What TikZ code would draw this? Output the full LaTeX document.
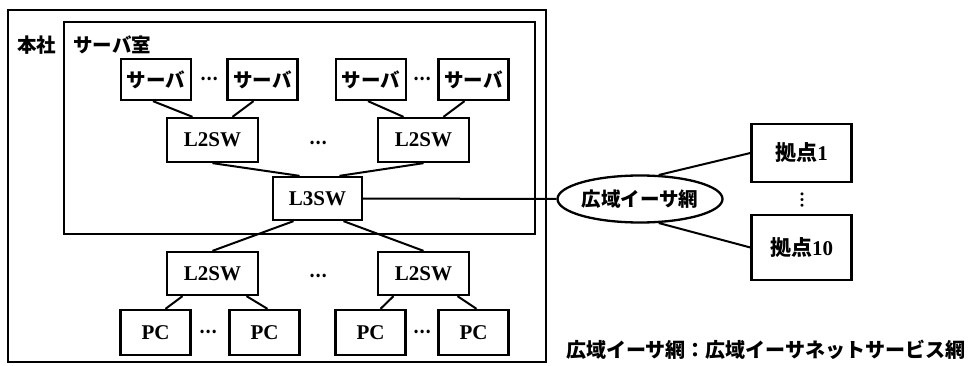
\documentclass[tikz,border=0pt]{standalone}
\usepackage{fontspec}
\setmainfont{Liberation Serif}
\newfontfamily\cjk{Noto Sans CJK JP}
\usetikzlibrary{shapes.geometric}
\tikzset{
  every node/.style={font=\fontsize{21}{24}\selectfont\bfseries},
  bx/.style={draw, line width=2.3pt, inner sep=0pt},
  srv/.style={bx, minimum width=70pt, minimum height=41pt, font=\fontsize{19.5}{22}\selectfont\cjk\bfseries},
  sw/.style={bx, minimum width=91pt, minimum height=44pt},
  pcb/.style={bx, minimum width=70pt, minimum height=45pt},
  site/.style={bx, minimum width=100pt},
  ln/.style={line width=2pt},
  frame/.style={line width=2pt},
  jp/.style={font=\fontsize{19.5}{22}\selectfont\cjk\bfseries, inner sep=0pt},
  dts/.style={inner sep=0pt, font=\fontsize{16}{16}\selectfont\cjk\bfseries}
}
\begin{document}
\begin{tikzpicture}[x=1pt,y=-1pt]
\useasboundingbox (0,0) rectangle (974,366);
% frames
\draw[frame] (8,10) rectangle (546,362);
\draw[frame] (64,22) rectangle (535,234);
\node[jp, anchor=west] (honsha) at (17,45) {本社};
\node[jp, anchor=west] (room) at (73,45) {サーバ室};
% servers
\node[srv] (s1) at (156,79.5) {サーバ};
\node[srv] (s2) at (262.5,79.5) {サーバ};
\node[srv] (s3) at (371,79.5) {サーバ};
\node[srv] (s4) at (473.5,79.5) {サーバ};
\node[dts] (d1) at (209,79) {…};
\node[dts] (d2) at (422,79) {…};
% upper L2SW
\node[sw] (ua) at (212.5,140) {L2SW};
\node[sw] (ub) at (423.5,140) {L2SW};
\node[dts] (d3) at (318,143) {…};
% L3SW
\node[sw, minimum width=89pt, minimum height=43pt] (l3) at (317.5,198.5) {L3SW};
% lower L2SW
\node[sw, minimum height=43pt] (la) at (212.5,273.5) {L2SW};
\node[sw, minimum height=43pt] (lb) at (423.5,273.5) {L2SW};
\node[dts] (d4) at (318,276) {…};
% PCs
\node[pcb] (p1) at (155.5,332.5) {PC};
\node[pcb] (p2) at (264.5,332.5) {PC};
\node[pcb] (p3) at (370.5,332.5) {PC};
\node[pcb] (p4) at (473.5,332.5) {PC};
\node[dts] (d5) at (208,332) {…};
\node[dts] (d6) at (422,332) {…};
% WAN
\node[draw, ellipse, line width=2.3pt, minimum width=165pt, minimum height=47pt, inner sep=0pt, font=\fontsize{19.5}{22}\selectfont\cjk\bfseries] (net) at (640,199) {広域イーサ網};
\node[site, minimum height=58pt] (k1) at (801.5,153) {{\cjk 拠点}1};
\node[site, minimum height=65pt] (k10) at (801.5,247.5) {{\cjk 拠点}10};
\node[dts, font=\fontsize{17}{17}\selectfont\cjk\bfseries] (vd) at (802,200) {︙};
\node[jp, anchor=base west, font=\fontsize{20}{24}\selectfont\cjk\bfseries] (note) at (566,357) {広域イーサ網：広域イーサネットサービス網};
% connectors
\draw[ln] ([xshift=-3pt]s1.south) -- ([xshift=-20pt]ua.north);
\draw[ln] ([xshift=-9pt]s2.south) -- ([xshift=20pt]ua.north);
\draw[ln] ([xshift=-3pt]s3.south) -- ([xshift=-20pt]ub.north);
\draw[ln] ([xshift=-9pt]s4.south) -- ([xshift=20pt]ub.north);
\draw[ln] (ua.south) -- ([xshift=-18pt]l3.north);
\draw[ln] (ub.south) -- ([xshift=22pt]l3.north);
\draw[ln] ([xshift=-24pt]l3.south) -- (la.north);
\draw[ln] ([xshift=26pt]l3.south) -- (lb.north);
\draw[ln] ([xshift=-30pt]la.south) -- ([xshift=10pt]p1.north);
\draw[ln] ([xshift=34pt]la.south) -- ([xshift=3pt]p2.north);
\draw[ln] ([xshift=-30pt]lb.south) -- ([xshift=10pt]p3.north);
\draw[ln] ([xshift=34pt]lb.south) -- ([xshift=3pt]p4.north);
\draw[ln] (l3.east) -- (net.west);
\draw[ln] (net.52) -- (k1.west);
\draw[ln] (net.-52) -- (k10.west);
\end{tikzpicture}
\end{document}
